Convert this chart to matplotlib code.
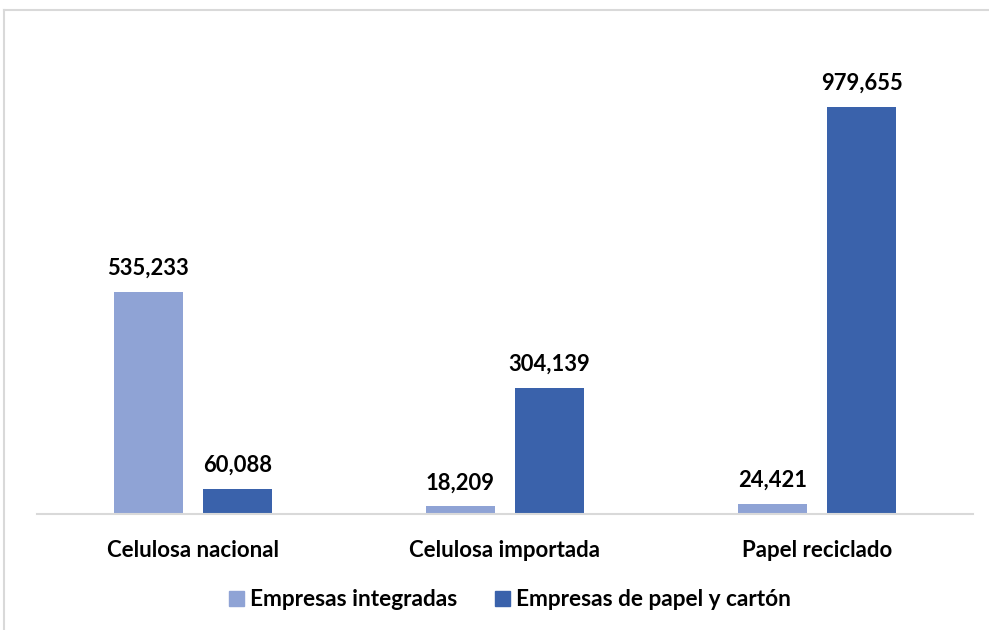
import numpy as np
import matplotlib.pyplot as plt
from matplotlib.lines import Line2D

categorias = ['Celulosa nacional', 'Celulosa importada', 'Papel reciclado']
series = ['Empresas integradas', 'Empresas de papel y cartón']
integradas = [535233, 18209, 24421]
papel_carton = [60088, 304139, 979655]

colores = ['#8FA3D5', '#3A62AB']

plt.rcParams['font.family'] = ['Lato', 'DejaVu Sans']
plt.rcParams['font.weight'] = 'bold'

W, H = 989, 630
fig = plt.figure(figsize=(W / 100, H / 100), dpi=100)
ax = fig.add_axes([37 / W, 1 - 514 / H, (973 - 37) / W, (514 - 15.5) / H])

x = np.arange(len(categorias))
ancho = 0.221
desp = 0.143
for vals, off, col in ((integradas, -desp, colores[0]), (papel_carton, desp, colores[1])):
    barras = ax.bar(x + off, vals, width=ancho, color=col)
    for b, v in zip(barras, vals):
        ax.annotate(f'{v:,}', (b.get_x() + b.get_width() / 2, v),
                    xytext=(0, 9.5), textcoords='offset points',
                    ha='center', va='bottom', fontsize=15.8, fontweight='bold',
                    color='black')

ax.set_xlim(-0.5, 2.5)
ax.set_ylim(0, 1.2e6)
for s in ['top', 'right', 'left']:
    ax.spines[s].set_visible(False)
ax.spines['bottom'].set_color('#D9D9D9')
ax.spines['bottom'].set_linewidth(1.5)
ax.set_yticks([])
ax.set_xticks(x)
ax.set_xticklabels(categorias, fontsize=16, fontweight='bold')
ax.tick_params(axis='x', length=0, pad=19)

handles = [plt.Rectangle((0, 0), 1, 1, color=c) for c in colores]
fig.legend(handles, series, loc='center', bbox_to_anchor=(510 / W, 1 - 600 / H),
           ncol=2, frameon=False, handlelength=0.65, handleheight=0.65,
           handletextpad=0.25, columnspacing=1.7,
           prop={'weight': 'bold', 'size': 16.3})

# marco del gráfico
fig.add_artist(Line2D([3.5 / W, 1], [1 - 9.5 / H, 1 - 9.5 / H], color='#D9D9D9', lw=1.5))
fig.add_artist(Line2D([3.5 / W, 3.5 / W], [0, 1 - 9.5 / H], color='#D9D9D9', lw=1.5))

fig.savefig('out.png', dpi=100)
